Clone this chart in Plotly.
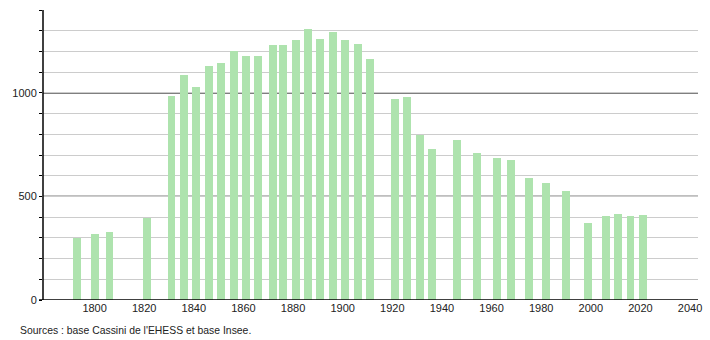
import plotly.graph_objects as go

years = [1793, 1800, 1806, 1821, 1831, 1836, 1841, 1846, 1851, 1856, 1861, 1866,
         1872, 1876, 1881, 1886, 1891, 1896, 1901, 1906, 1911, 1921, 1926, 1931,
         1936, 1946, 1954, 1962, 1968, 1975, 1982, 1990, 1999, 2006, 2011, 2016, 2021]
population = [298, 319, 330, 395, 987, 1087, 1029, 1132, 1145, 1200, 1177, 1177,
              1229, 1229, 1253, 1306, 1261, 1293, 1253, 1234, 1164, 968, 981, 795,
              730, 774, 711, 685, 677, 590, 566, 527, 372, 406, 416, 406, 411]
x_ticks = [1800, 1820, 1840, 1860, 1880, 1900, 1920, 1940, 1960, 1980, 2000, 2020, 2040]
y_grid = list(range(0, 1401, 100))
y_labels = {0: "0", 500: "500", 1000: "1000"}
source_text = "Sources : base Cassini de l'EHESS et base Insee."

W, H = 710, 340
ml, mr, mt, mb = 43, 8, 10, 40
pw, ph = W - ml - mr, H - mt - mb

fig = go.Figure()
fig.add_trace(go.Bar(x=years, y=population, width=3.2,
                     marker=dict(color="#aee3ae", line=dict(width=0)),
                     hoverinfo="x+y"))

shapes = []
for v in (500, 1000):
    shapes.append(dict(type="line", xref="paper", yref="y", x0=0, x1=1, y0=v, y1=v,
                       line=dict(color="#000000", width=1.2), layer="below"))
# x axis line extended slightly left of y axis
shapes.append(dict(type="line", xref="paper", yref="y", x0=-4 / pw, x1=1,
                   y0=0, y1=0, line=dict(color="#000000", width=1.5)))
# y axis line
shapes.append(dict(type="line", xref="paper", yref="paper", x0=0, x1=0, y0=0, y1=1,
                   line=dict(color="#000000", width=1.5)))

fig.update_layout(
    width=W, height=H,
    margin=dict(l=ml, r=mr, t=mt, b=mb),
    paper_bgcolor="white", plot_bgcolor="white",
    showlegend=False,
    bargap=0,
    font=dict(family="Liberation Sans, Arial, sans-serif", size=11, color="#222222"),
    xaxis=dict(range=[1779.2, 2043.2], tickmode="array", tickvals=x_ticks,
               ticks="", showgrid=False, zeroline=False, showline=False,
               tickfont=dict(size=11)),
    yaxis=dict(range=[0, 1400], tickmode="array", tickvals=y_grid,
               ticktext=[y_labels.get(v, "") for v in y_grid],
               ticks="outside", ticklen=3, tickcolor="#000000", tickwidth=1,
               showgrid=True, gridcolor="#cccccc", gridwidth=1,
               zeroline=False, showline=False, tickfont=dict(size=11)),
    shapes=shapes,
    annotations=[dict(text=source_text, xref="paper", yref="paper",
                      x=-(ml - 18) / pw, y=-(330 - (H - mb)) / ph,
                      xanchor="left", yanchor="middle", showarrow=False,
                      font=dict(size=10.4, color="#222222"))],
)

fig.write_html("out.html")
